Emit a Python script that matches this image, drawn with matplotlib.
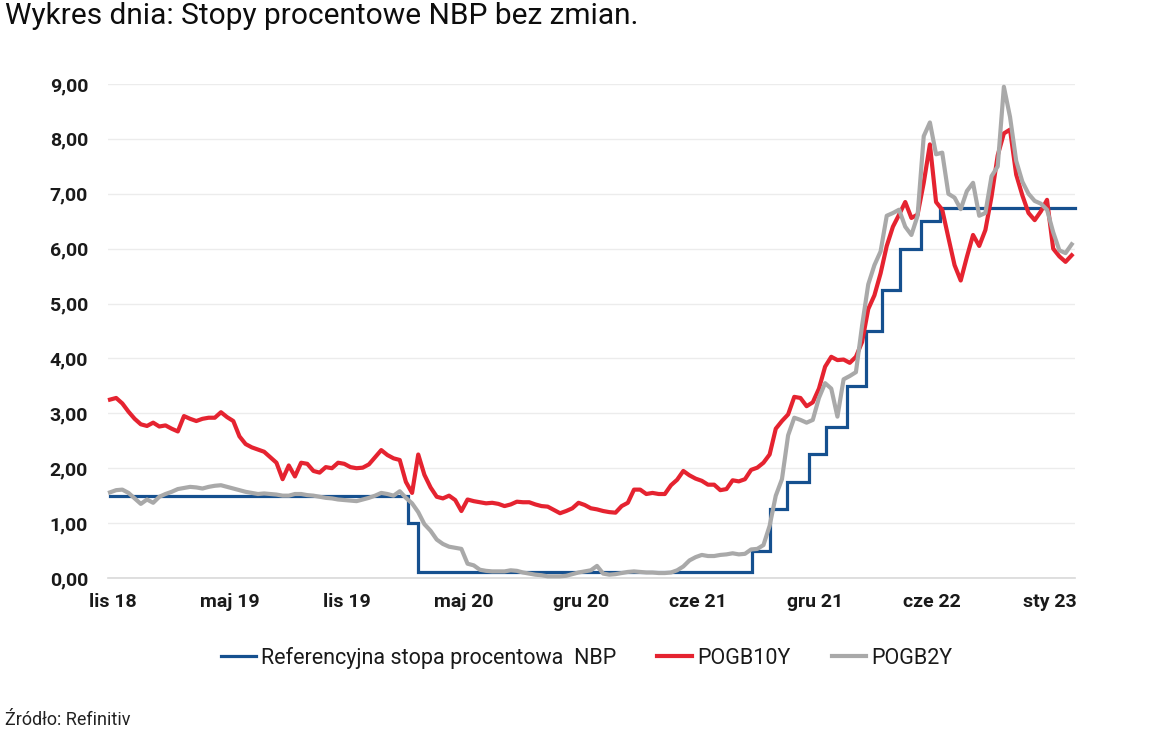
import matplotlib
matplotlib.use("Agg")
import matplotlib.pyplot as plt
import pandas as pd

# ---------------- data ----------------
title = "Wykres dnia: Stopy procentowe NBP bez zmian."
source = "Źródło: Refinitiv"
series_names = ["Referencyjna stopa procentowa  NBP", "POGB10Y", "POGB2Y"]

# reference rate (step series)
ref_dates = ["2018-11-01", "2020-02-27", "2020-03-14", "2021-09-07", "2021-10-06",
             "2021-11-03", "2021-12-09", "2022-01-06", "2022-02-09", "2022-03-11",
             "2022-04-07", "2022-05-06", "2022-06-09", "2022-07-10", "2023-02-13"]
ref_rate = [1.50, 1.00, 0.10, 0.50, 1.25, 1.75, 2.25, 2.75, 3.50, 4.50,
            5.25, 6.00, 6.50, 6.75, 6.75]

# bond yields, sampled every 10 days from 2018-11-01
yield_start = "2018-11-01"
yield_step_days = 10

pogb10y = [3.25, 3.28, 3.18, 3.03, 2.90, 2.80, 2.77, 2.83, 2.76, 2.78,
           2.72, 2.67, 2.95, 2.90, 2.86, 2.90, 2.92, 2.92, 3.02, 2.93,
           2.86, 2.58, 2.44, 2.38, 2.34, 2.30, 2.20, 2.10, 1.80, 2.05,
           1.85, 2.10, 2.08, 1.95, 1.92, 2.02, 2.00, 2.10, 2.08, 2.02,
           2.00, 2.01, 2.07, 2.20, 2.33, 2.24, 2.18, 2.15, 1.75, 1.55,
           2.25, 1.88, 1.65, 1.48, 1.45, 1.50, 1.42, 1.22, 1.43, 1.40,
           1.38, 1.36, 1.37, 1.35, 1.31, 1.34, 1.39, 1.38, 1.38, 1.34,
           1.31, 1.30, 1.24, 1.18, 1.22, 1.27, 1.37, 1.33, 1.27, 1.25,
           1.22, 1.20, 1.19, 1.31, 1.37, 1.61, 1.61, 1.53, 1.55, 1.53,
           1.53, 1.69, 1.79, 1.95, 1.87, 1.81, 1.77, 1.70, 1.70, 1.60,
           1.62, 1.78, 1.76, 1.80, 1.97, 2.01, 2.10, 2.25, 2.72, 2.86,
           2.98, 3.30, 3.28, 3.13, 3.20, 3.45, 3.85, 4.03, 3.97, 3.98,
           3.92, 4.03, 4.30, 4.90, 5.15, 5.55, 6.05, 6.40, 6.62, 6.85,
           6.56, 6.62, 7.20, 7.90, 6.85, 6.71, 6.20, 5.70, 5.42, 5.85,
           6.25, 6.05, 6.34, 6.95, 7.70, 8.10, 8.17, 7.35, 6.97, 6.65,
           6.52, 6.68, 6.89, 6.00, 5.86, 5.76, 5.88]

pogb2y = [1.56, 1.60, 1.61, 1.55, 1.45, 1.35, 1.43, 1.37, 1.48, 1.53,
          1.57, 1.62, 1.64, 1.66, 1.65, 1.63, 1.66, 1.68, 1.69, 1.66,
          1.63, 1.60, 1.57, 1.55, 1.53, 1.54, 1.53, 1.52, 1.50, 1.50,
          1.53, 1.53, 1.51, 1.50, 1.48, 1.46, 1.45, 1.43, 1.42, 1.41,
          1.40, 1.43, 1.46, 1.50, 1.55, 1.53, 1.50, 1.58, 1.46, 1.36,
          1.20, 0.98, 0.86, 0.70, 0.62, 0.57, 0.55, 0.53, 0.26, 0.23,
          0.15, 0.13, 0.12, 0.12, 0.12, 0.14, 0.13, 0.10, 0.08, 0.06,
          0.05, 0.03, 0.03, 0.03, 0.04, 0.07, 0.10, 0.12, 0.14, 0.22,
          0.08, 0.06, 0.07, 0.09, 0.11, 0.12, 0.11, 0.10, 0.10, 0.09,
          0.09, 0.10, 0.14, 0.21, 0.32, 0.38, 0.42, 0.40, 0.40, 0.42,
          0.43, 0.45, 0.43, 0.44, 0.52, 0.53, 0.60, 0.95, 1.50, 1.80,
          2.60, 2.92, 2.88, 2.83, 2.88, 3.28, 3.55, 3.45, 2.94, 3.62,
          3.68, 3.75, 4.60, 5.35, 5.70, 5.95, 6.60, 6.65, 6.71, 6.40,
          6.25, 6.60, 8.05, 8.30, 7.72, 7.75, 7.00, 6.93, 6.72, 7.05,
          7.20, 6.60, 6.65, 7.32, 7.50, 8.95, 8.40, 7.60, 7.22, 7.00,
          6.87, 6.82, 6.71, 6.30, 5.97, 5.92, 6.08]

tick_dates = ["2018-11-05", "2019-05-14", "2019-11-20", "2020-05-28", "2020-12-04",
              "2021-06-12", "2021-12-19", "2022-06-27", "2023-01-03"]
tick_labels = ["lis 18", "maj 19", "lis 19", "maj 20", "gru 20",
               "cze 21", "gru 21", "cze 22", "sty 23"]
y_ticks = [0, 1, 2, 3, 4, 5, 6, 7, 8, 9]

# ---------------- style ----------------
C_BLUE = "#15508f"
C_RED = "#e52330"
C_GRAY = "#a9a9a9"
C_TEXT = "#1a1a1a"
FONT = ["Roboto", "DejaVu Sans"]
plt.rcParams["font.family"] = FONT

fig = plt.figure(figsize=(11.74, 7.43), dpi=100)
ax = fig.add_axes([0.0916, 0.2221, 0.8244, 0.6648])

yield_dates = pd.date_range(yield_start, periods=len(pogb10y), freq=f"{yield_step_days}D")
ref_x = pd.to_datetime(ref_dates)

l1, = ax.step(ref_x, ref_rate, where="post", color=C_BLUE, lw=2.3, zorder=3,
              solid_joinstyle="miter")
l2, = ax.plot(yield_dates, pogb10y, color=C_RED, lw=3.0, zorder=4)
l3, = ax.plot(pd.date_range(yield_start, periods=len(pogb2y), freq=f"{yield_step_days}D"),
              pogb2y, color=C_GRAY, lw=3.0, zorder=5)
for ln in (l1, l2, l3):
    ln.set_clip_on(False)

ax.set_ylim(0, 9)
ax.set_xlim(pd.Timestamp("2018-10-28"), pd.Timestamp("2023-02-14"))
ax.set_yticks(y_ticks)
ax.set_yticklabels([f"{v:.2f}".replace(".", ",") for v in y_ticks])
ax.set_xticks(pd.to_datetime(tick_dates))
ax.set_xticklabels(tick_labels)

for s in ("top", "right", "left"):
    ax.spines[s].set_visible(False)
ax.spines["bottom"].set_color("#d9d9d9")
ax.spines["bottom"].set_linewidth(1.2)
ax.grid(axis="y", color="#ececec", lw=1.0, zorder=0)
ax.set_axisbelow(True)
ax.tick_params(axis="both", length=0, colors=C_TEXT, labelsize=14)
ax.tick_params(axis="y", pad=14)
ax.tick_params(axis="x", pad=11)
for t in ax.get_xticklabels() + ax.get_yticklabels():
    t.set_fontweight("bold")

fig.text(0.004, 0.997, title, ha="left", va="top", fontsize=21.5, color="#0d0d0d")
fig.text(0.004, 0.031, source, ha="left", va="center", fontsize=13, color="#222222")

fig.legend([l1, l2, l3], series_names, loc="center", bbox_to_anchor=(0.5, 0.1144),
           ncol=3, frameon=False, fontsize=15.5, handlelength=1.6, handletextpad=0.25,
           columnspacing=1.9, labelcolor=C_TEXT)

fig.savefig("out.png", dpi=100)
